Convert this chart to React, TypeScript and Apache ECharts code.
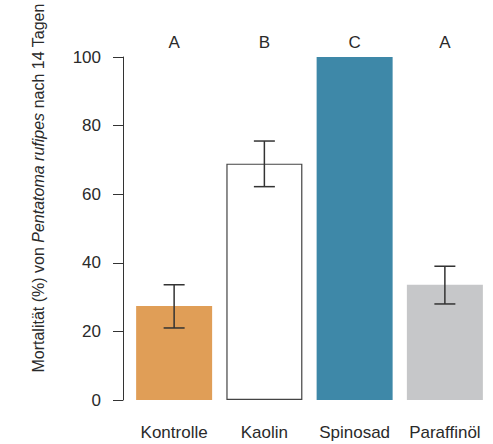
import React, { useEffect, useRef } from "react";
import * as echarts from "echarts";

const categories = ["Kontrolle", "Kaolin", "Spinosad", "Paraffinöl"];
const means = [27.4, 68.9, 100, 33.6];
const errLow = [21.0, 62.2, 100, 28.0];
const errHigh = [33.6, 75.5, 100, 39.0];
const letters = ["A", "B", "C", "A"];
const yTicks = [0, 20, 40, 60, 80, 100];

const barColors = ["#E09E57", "#FFFFFF", "#3E88A8", "#C6C7C9"];
const FONT = "'Liberation Sans', Arial, Helvetica, sans-serif";
const TXT = "#2a2a2a";

export default function App() {
  const ref = useRef<HTMLDivElement>(null);
  useEffect(() => {
    if (!ref.current) return;
    const chart = echarts.init(ref.current, undefined, { renderer: "svg" });
    const option: any = {
      animation: false,
      backgroundColor: "#ffffff",
      grid: { left: 129, right: 3, top: 57, bottom: 44, containLabel: false },
      xAxis: [
        {
          type: "category",
          data: categories,
          axisLine: { show: false },
          axisTick: { show: false },
          axisLabel: { color: TXT, fontSize: 17, fontFamily: FONT, margin: 24, interval: 0 },
        },
        {
          type: "category",
          position: "top",
          data: letters,
          axisLine: { show: false },
          axisTick: { show: false },
          axisLabel: { color: TXT, fontSize: 17, fontFamily: FONT, margin: 6, interval: 0 },
        },
      ],
      yAxis: {
        type: "value",
        min: yTicks[0],
        max: yTicks[yTicks.length - 1],
        interval: 20,
        offset: 6,
        splitLine: { show: false },
        axisLine: { show: true, lineStyle: { color: "#333", width: 1 } },
        axisTick: { show: true, length: 10, lineStyle: { color: "#333", width: 1 } },
        axisLabel: { color: TXT, fontSize: 17, fontFamily: FONT, margin: 22 },
      },
      graphic: [
        {
          type: "text",
          x: 38,
          y: 188,
          rotation: Math.PI / 2,
          style: {
            text: "Mortalität (%) von {i|Pentatoma rufipes} nach 14 Tagen",
            font: `16px ${FONT}`,
            fill: TXT,
            align: "center",
            verticalAlign: "middle",
            rich: {
              i: { fontStyle: "italic", fontSize: 16, fontFamily: FONT, fill: TXT, color: TXT },
            },
          },
        },
      ],
      series: [
        {
          type: "bar",
          xAxisIndex: 0,
          barWidth: 76,
          data: means.map((v, i) => ({
            value: v,
            itemStyle: {
              color: barColors[i],
              borderColor: i === 1 ? "#444" : barColors[i],
              borderWidth: i === 1 ? 1.2 : 0,
            },
          })),
        },
        {
          type: "custom",
          xAxisIndex: 0,
          data: categories.map((_, i) => [i, errLow[i], errHigh[i]]),
          renderItem: (params: any, api: any) => {
            const idx = api.value(0);
            const lo = api.value(1);
            const hi = api.value(2);
            if (lo === hi) return null;
            const pLo = api.coord([idx, lo]);
            const pHi = api.coord([idx, hi]);
            const hw = 10.5;
            const style = { stroke: "#333", lineWidth: 1.5 };
            return {
              type: "group",
              children: [
                { type: "line", shape: { x1: pLo[0], y1: pLo[1], x2: pHi[0], y2: pHi[1] }, style },
                { type: "line", shape: { x1: pLo[0] - hw, y1: pLo[1], x2: pLo[0] + hw, y2: pLo[1] }, style },
                { type: "line", shape: { x1: pHi[0] - hw, y1: pHi[1], x2: pHi[0] + hw, y2: pHi[1] }, style },
              ],
            };
          },
          z: 10,
        },
      ],
    };
    chart.setOption(option);
    return () => chart.dispose();
  }, []);
  return <div ref={ref} style={{ width: 493, height: 444, position: "absolute", left: 0, top: 0 }} />;
}
